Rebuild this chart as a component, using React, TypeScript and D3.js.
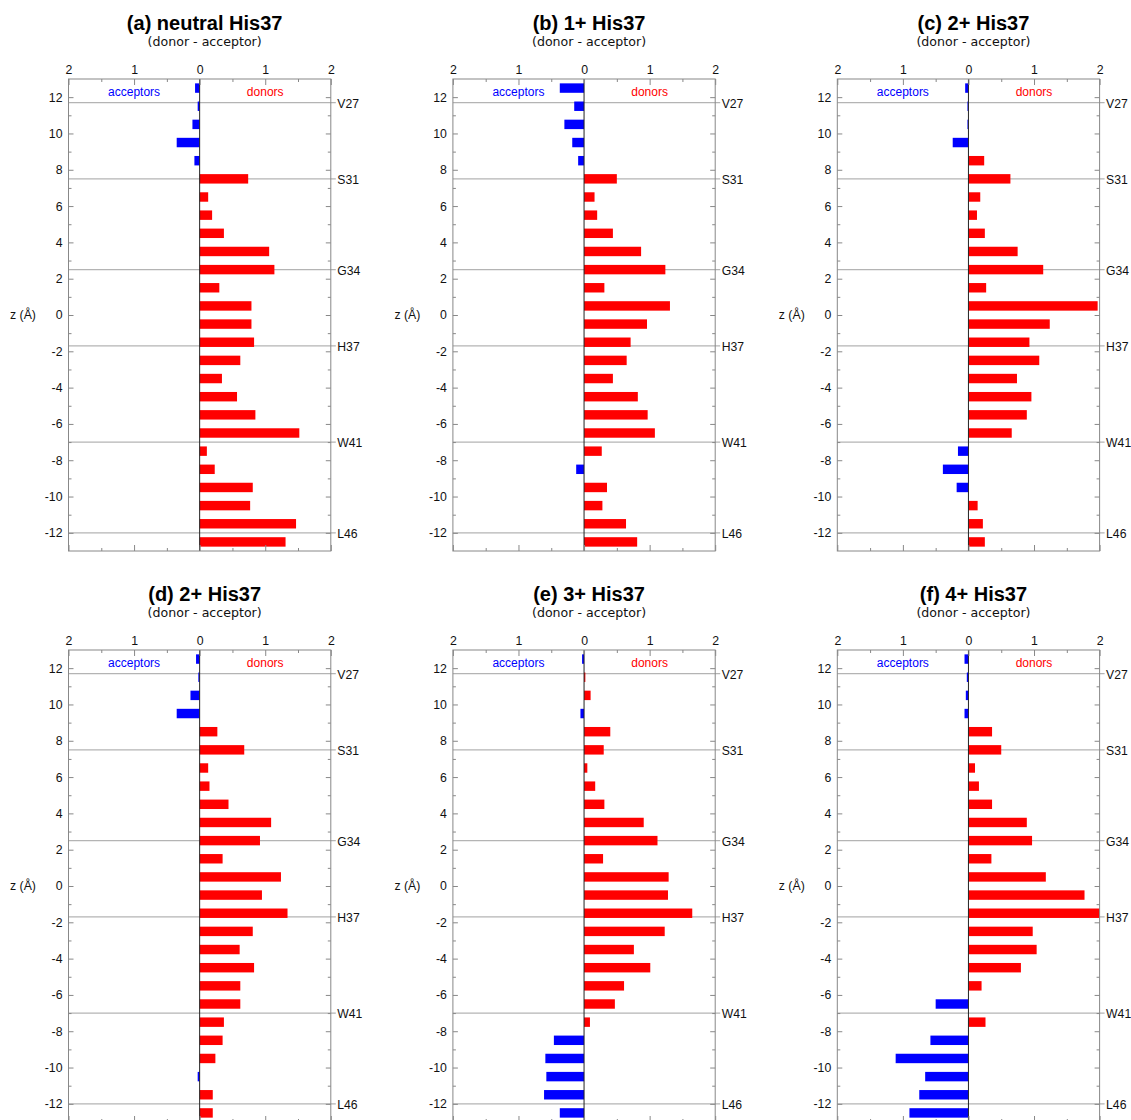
import React, { useEffect, useRef } from "react";
import * as d3 from "d3";

// z position of each slab centre (Å)
const zCenters = [12.5, 11.5, 10.5, 9.5, 8.5, 7.5, 6.5, 5.5, 4.5, 3.5, 2.5, 1.5, 0.5,
  -0.5, -1.5, -2.5, -3.5, -4.5, -5.5, -6.5, -7.5, -8.5, -9.5, -10.5, -11.5, -12.5];

// donor - acceptor counts, negative = acceptor
const neutralHis = [-0.07, -0.03, -0.11, -0.35, -0.08, 0.74, 0.13, 0.19, 0.37, 1.06, 1.14, 0.3, 0.79,
  0.79, 0.83, 0.62, 0.34, 0.57, 0.85, 1.52, 0.11, 0.23, 0.81, 0.77, 1.47, 1.31];
const oneHis = [-0.37, -0.15, -0.3, -0.18, -0.09, 0.5, 0.16, 0.2, 0.44, 0.87, 1.24, 0.31, 1.31,
  0.96, 0.71, 0.65, 0.44, 0.82, 0.97, 1.08, 0.27, -0.12, 0.35, 0.28, 0.64, 0.81];
const twoHisC = [-0.05, -0.015, -0.015, -0.24, 0.24, 0.64, 0.18, 0.13, 0.25, 0.75, 1.14, 0.27, 1.97,
  1.24, 0.93, 1.08, 0.74, 0.96, 0.89, 0.66, -0.16, -0.39, -0.18, 0.14, 0.22, 0.25];
const twoHisD = [-0.055, -0.02, -0.14, -0.35, 0.27, 0.68, 0.13, 0.15, 0.44, 1.09, 0.92, 0.35, 1.24,
  0.95, 1.34, 0.81, 0.61, 0.83, 0.62, 0.62, 0.37, 0.35, 0.24, -0.03, 0.2, 0.2];
const threeHis = [-0.03, 0.02, 0.1, -0.055, 0.4, 0.3, 0.05, 0.17, 0.31, 0.91, 1.12, 0.29, 1.29,
  1.28, 1.65, 1.23, 0.76, 1.01, 0.61, 0.47, 0.09, -0.46, -0.59, -0.575, -0.61, -0.37];
const fourHis = [-0.06, -0.025, -0.04, -0.06, 0.36, 0.5, 0.1, 0.16, 0.36, 0.89, 0.97, 0.35, 1.18,
  1.77, 2.05, 0.98, 1.04, 0.8, 0.2, -0.5, 0.26, -0.58, -1.11, -0.66, -0.75, -0.9];

const titles = ["(a) neutral His37", "(b) 1+ His37", "(c) 2+ His37", "(d) 2+ His37", "(e) 3+ His37", "(f) 4+ His37"];
const series = [neutralHis, oneHis, twoHisC, twoHisD, threeHis, fourHis];

const residueNames = ["V27", "S31", "G34", "H37", "W41", "L46"];
const residueZ = [11.7, 7.5, 2.5, -1.7, -7, -12];

const xMajor = [-2, -1, 0, 1, 2];
const xMinor = [-1.5, -0.5, 0.5, 1.5];
const zMajor = [12, 10, 8, 6, 4, 2, 0, -2, -4, -6, -8, -10, -12];
const zMinor = [11, 9, 7, 5, 3, 1, -1, -3, -5, -7, -9, -11];

const W = 262.3;
const H = 472;
const font = "'Liberation Sans', Arial, sans-serif";

const Panel = ({ title, values, ox, oy }) => {
  const gRef = useRef(null);
  const x = d3.scaleLinear().domain([-2, 2]).range([0, W]).clamp(true);
  const y = d3.scaleLinear().domain([13, -13]).range([0, H]);
  const bh = (y(0) - y(1)) * 0.52;

  useEffect(() => {
    const g = d3.select(gRef.current);
    const style = (sel) => {
      sel.select(".domain").remove();
      sel.selectAll("line").attr("stroke", "#888");
      sel.selectAll("text").attr("fill", "#111").style("font-family", font).style("font-size", "12.3px");
    };
    g.select(".x-top").call(d3.axisTop(x).tickValues(xMajor).tickSizeInner(-6).tickSizeOuter(0)
      .tickPadding(5).tickFormat(d => String(Math.abs(d)))).call(style);
    g.select(".x-top-minor").call(d3.axisTop(x).tickValues(xMinor).tickSizeInner(-3).tickSizeOuter(0)
      .tickFormat(() => "")).call(style);
    g.select(".x-bot").attr("transform", `translate(0,${H})`)
      .call(d3.axisBottom(x).tickValues(xMajor).tickSizeInner(-6).tickSizeOuter(0).tickFormat(() => "")).call(style);
    g.select(".x-bot-minor").attr("transform", `translate(0,${H})`)
      .call(d3.axisBottom(x).tickValues(xMinor).tickSizeInner(-3).tickSizeOuter(0).tickFormat(() => "")).call(style);
    g.select(".y-left").call(d3.axisLeft(y).tickValues(zMajor).tickSizeInner(-5).tickSizeOuter(0)
      .tickPadding(6).tickFormat(d => String(d))).call(style);
    g.select(".y-left-minor").call(d3.axisLeft(y).tickValues(zMinor).tickSizeInner(-3).tickSizeOuter(0)
      .tickFormat(() => "")).call(style);
    g.select(".y-right").attr("transform", `translate(${W},0)`)
      .call(d3.axisRight(y).tickValues(zMajor).tickSizeInner(-5).tickSizeOuter(0).tickFormat(() => "")).call(style);
    g.select(".y-right-minor").attr("transform", `translate(${W},0)`)
      .call(d3.axisRight(y).tickValues(zMinor).tickSizeInner(-3).tickSizeOuter(0).tickFormat(() => "")).call(style);
  }, []);

  return (
    <g ref={gRef} transform={`translate(${ox},${oy})`}>
      <text x={W / 2 + 5} y={-49} textAnchor="middle" fontFamily={font} fontWeight="bold" fontSize={20} fill="#000">{title}</text>
      <text x={W / 2 + 5} y={-33.5} textAnchor="middle" fontFamily="'DejaVu Sans', sans-serif" fontSize={12.6} fill="#111">(donor - acceptor)</text>
      <text x={-58.5} y={y(0) + 4.3} fontFamily={font} fontSize={12.3} fill="#111">z (Å)</text>
      {residueZ.map((z, i) => (
        <line key={"r" + i} x1={0} x2={W + 5} y1={y(z)} y2={y(z)} stroke="#b4b4b4" strokeWidth={1.3} />
      ))}
      {values.map((v, i) => (
        <rect key={"b" + i} x={x(Math.min(0, v))} width={x(Math.max(0, v)) - x(Math.min(0, v))}
          y={y(zCenters[i]) - bh / 2} height={bh} fill={v < 0 ? "#0000ff" : "#ff0000"} />
      ))}
      <line x1={x(0)} x2={x(0)} y1={0} y2={H} stroke="#222" strokeWidth={1} />
      <rect x={0} y={0} width={W} height={H} fill="none" stroke="#888" strokeWidth={1} />
      <g className="x-top" />
      <g className="x-top-minor" />
      <g className="x-bot" />
      <g className="x-bot-minor" />
      <g className="y-left" />
      <g className="y-left-minor" />
      <g className="y-right" />
      <g className="y-right-minor" />
      <text x={x(-1)} y={17} textAnchor="middle" fontFamily={font} fontSize={12} fill="#0000ff">acceptors</text>
      <text x={x(1)} y={17} textAnchor="middle" fontFamily={font} fontSize={12} fill="#ff0000">donors</text>
      {residueNames.map((name, i) => (
        <text key={"n" + i} x={W + 6.5} y={y(residueZ[i]) + 5} fontFamily={font} fontSize={12.2} fill="#111">{name}</text>
      ))}
    </g>
  );
};

export default function App() {
  const colX = [68.5, 452.9, 837.3];
  const rowY = [79, 650];
  return (
    <div style={{ position: "absolute", left: 0, top: 0 }}>
      <svg width={1131} height={1120} style={{ display: "block", background: "#fff" }}>
        {series.map((vals, i) => (
          <Panel key={i} title={titles[i]} values={vals} ox={colX[i % 3]} oy={rowY[Math.floor(i / 3)]} />
        ))}
      </svg>
    </div>
  );
}
